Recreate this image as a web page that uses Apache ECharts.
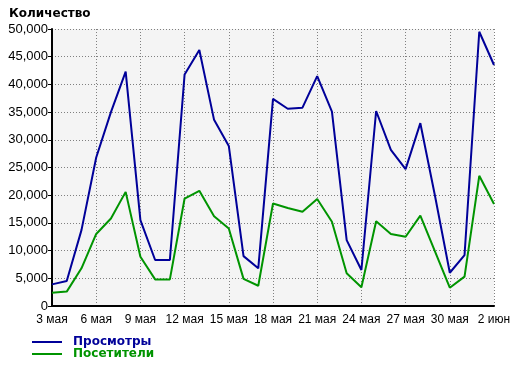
<!DOCTYPE html>
<html><head><meta charset="utf-8">
<script src="https://cdn.jsdelivr.net/npm/echarts@6/dist/echarts.min.js"></script>
<style>html,body{margin:0;padding:0;background:#fff}#c{width:520px;height:366px}</style>
</head><body><div id="c"></div>
<script>
const categories = ['3 мая','4 мая','5 мая','6 мая','7 мая','8 мая','9 мая','10 мая','11 мая','12 мая','13 мая','14 мая','15 мая','16 мая','17 мая','18 мая','19 мая','20 мая','21 мая','22 мая','23 мая','24 мая','25 мая','26 мая','27 мая','28 мая','29 мая','30 мая','31 мая','1 июн','2 июн'];
const views = [3900,4500,13700,26800,35000,42300,15500,8300,8300,41800,46200,33600,28900,9000,6800,37400,35600,35800,41500,35100,11900,6500,35200,28200,24700,33000,19800,6000,9200,49500,43500];
const visitors = [2400,2600,6800,13000,15800,20600,8900,4800,4800,19400,20800,16200,14000,4900,3650,18500,17700,17000,19300,15200,5900,3400,15300,13000,12500,16300,9800,3300,5300,23500,18400];
const seriesNames = ['Просмотры','Посетители'];
const colors = ['#000099','#009400'];
const every3 = (i)=> i % 3 === 0;

function legendFor(i, top){
  return {orient:'horizontal',left:32,top:top,padding:0,itemWidth:30,itemHeight:10,
    icon:'path://M0,4L30,4L30,6L0,6Z',
    data:[{name:seriesNames[i],itemStyle:{color:colors[i]},textStyle:{color:colors[i]}}],
    textStyle:{fontFamily:'DejaVu Sans',fontSize:12,fontWeight:'bold',padding:[0,0,0,6]}};
}

const chart = echarts.init(document.getElementById('c'));
chart.setOption({
  animation:false,
  title:{text:'Количество',left:4,top:3,textStyle:{fontFamily:'DejaVu Sans',fontSize:12,fontWeight:'bold',color:'#000'}},
  legend:[legendFor(0,336),legendFor(1,348)],
  grid:{left:52,right:26,top:29,bottom:60,backgroundColor:'#f4f4f4',show:true,borderWidth:0},
  xAxis:{type:'category',data:categories,boundaryGap:false,
    axisLine:{lineStyle:{color:'#000',width:2}},
    axisTick:{show:true,interval:every3,length:0},
    axisLabel:{interval:every3,color:'#000',fontFamily:'Liberation Sans',fontSize:12,margin:8},
    splitLine:{show:true,interval:every3,lineStyle:{color:'#808080',type:[1,2],width:1}}},
  yAxis:{type:'value',min:0,max:50000,interval:5000,
    axisLine:{show:true,lineStyle:{color:'#000',width:2}},
    axisTick:{show:true,length:4,lineStyle:{color:'#000',width:1}},
    axisLabel:{color:'#000',fontFamily:'Liberation Sans',fontSize:13,margin:4,formatter:v=>v.toLocaleString('en-US')},
    splitLine:{show:true,lineStyle:{color:'#808080',type:[1,2],width:1}}},
  series:[
    {name:seriesNames[0],type:'line',data:views,symbol:'none',lineStyle:{color:colors[0],width:2},itemStyle:{color:colors[0]}},
    {name:seriesNames[1],type:'line',data:visitors,symbol:'none',lineStyle:{color:colors[1],width:2},itemStyle:{color:colors[1]}}
  ]
});
</script></body></html>
